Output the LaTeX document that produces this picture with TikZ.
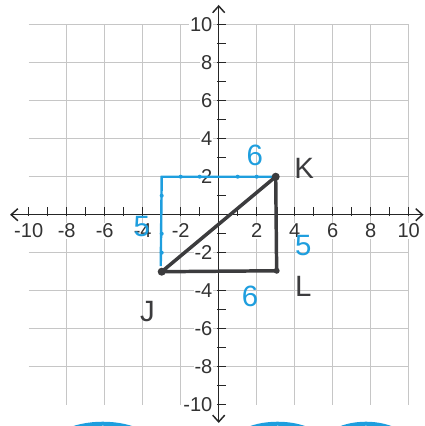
\documentclass[tikz,border=0pt]{standalone}
\usepackage{fontspec}
\setmainfont{Liberation Sans}
\usetikzlibrary{arrows.meta}
\definecolor{hblue}{RGB}{30,158,222}
\definecolor{pencil}{RGB}{60,60,62}
\begin{document}
\begin{tikzpicture}[x=0.5cm,y=0.5cm,
 gridline/.style={gray!45, line width=0.5pt},
 axis/.style={black!85, line width=1.1pt, {Straight Barb[length=5pt,width=9pt]}-{Straight Barb[length=5pt,width=9pt]}},
 tickmark/.style={black!85, line width=0.9pt},
 ticklabel/.style={font=\fontsize{15}{15}\selectfont, text=black!80, inner sep=0.6pt, fill=white},
 tri/.style={pencil, line width=2.6pt, line cap=round, line join=round},
 blueline/.style={hblue, line width=1.8pt},
 bluedot/.style={circle, fill=hblue, inner sep=0pt, minimum size=3pt},
 vdot/.style={circle, fill=pencil, inner sep=0pt, minimum size=6pt},
 hand/.style={font=\fontsize{22}{22}\selectfont},
]
\useasboundingbox (-11.51,-11.12) rectangle (10.81,11.30);
% grid
\draw[gridline] (-10,-10) grid (10,10);
% axes
\coordinate (xl) at (-10.98,0);
\coordinate (xr) at (10.78,0);
\coordinate (yt) at (0,11.04);
\coordinate (yb) at (0,-10.96);
\draw[axis] (xl) -- (xr);
\draw[axis] (yb) -- (yt);
% ticks
\foreach \i in {-10,...,-1,1,2,...,10}{
  \draw[tickmark] (\i,-0.08) -- (\i,0.38);
  \draw[tickmark] (-0.08,\i) -- (0.38,\i);
}
% tick labels
\foreach \i in {-10,-8,-6,-4,-2,2,4,6,8,10}{
  \node[ticklabel] (xt\i) at (\i,-0.85) {\ifnum\i<0 -\the\numexpr-\i\relax\else\i\fi};
  \node[ticklabel, anchor=east] (yt\i) at (-0.28,\i) {\ifnum\i<0 -\the\numexpr-\i\relax\else\i\fi};
}
% points
\coordinate (J) at (-3,-3);
\coordinate (K) at (3,2);
\coordinate (L) at (3.05,-2.95);
\coordinate (B) at (-3,2);
\coordinate (Bl) at (-3.05,-2.7);
% blue rectangle sides
\draw[blueline] (Bl) -- (B) -- (K);
\foreach \p in {(-3,1),(-3,-1),(-3,-2),(-2,2),(-1,2),(1,2),(2,2)}{
  \node[bluedot] at \p {};
}
% triangle
\draw[tri] (J) -- (K) -- (L) -- cycle;
\node[vdot] (Jd) at (J) {};
\node[vdot] (Kd) at (K) {};
\node[vdot, minimum size=4.5pt] (Ld) at (L) {};
% labels
\node[hand, text=hblue] (six1) at (1.9,3.1) {6};
\node[hand, text=hblue] (five1) at (-4.05,-0.6) {5};
\node[hand, text=hblue] (five2) at (4.45,-1.6) {5};
\node[hand, text=hblue] (six2) at (1.65,-4.3) {6};
\node[hand, text=pencil] (Kl) at (4.5,2.45) {K};
\node[hand, text=pencil] (Ll) at (4.45,-3.75) {L};
\node[hand, text=pencil] (Jl) at (-3.75,-5.1) {J};
% bottom blue arcs (cut off)
\begin{scope}
\clip (-11.51,-11.12) rectangle (10.81,11.30);
\draw[hblue, line width=3pt] (-6.1,-12.5) ellipse (2.9 and 1.5);
\draw[hblue, line width=3pt] (3.1,-12.5) ellipse (2.7 and 1.5);
\draw[hblue, line width=3pt] (7.75,-12.5) ellipse (2.5 and 1.5);
\end{scope}
\end{tikzpicture}
\end{document}
